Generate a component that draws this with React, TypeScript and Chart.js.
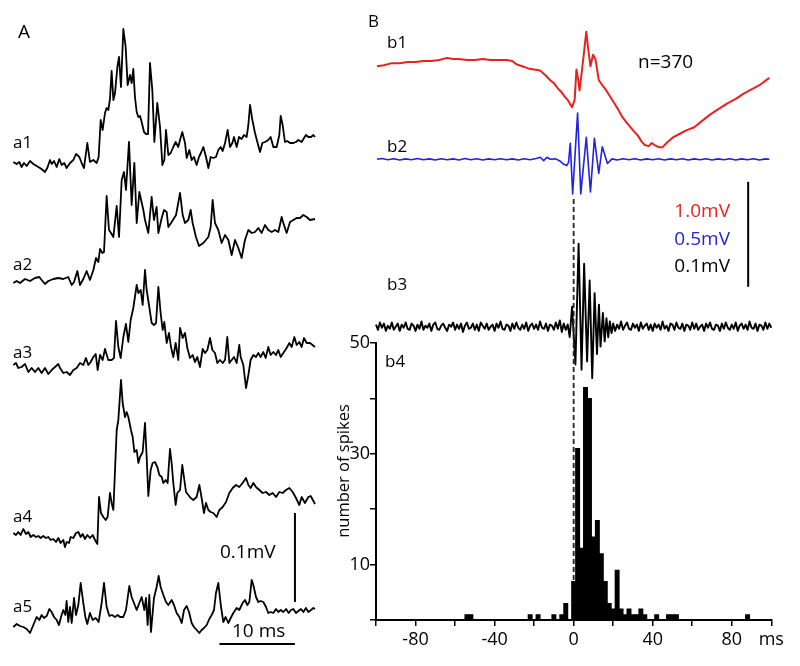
import React, { useEffect, useRef } from "react";
import { Chart, registerables } from "chart.js";

Chart.register(...registerables);

type P = [number, number];

const FONT = "'Open Sans', Lato, 'DejaVu Sans', sans-serif";
const RED = "#e8221f";
const BLUE = "#2222dd";

// ---------------- Panel A: single sweeps (time in ms, amplitude in units where 89 units = 0.1 mV)
const a1: P[] = [[0,1],[0.44,-1],[0.79,1],[1.10,-4],[1.41,0],[1.77,-3],[2.21,2],[2.65,-1],[3.09,-3],[3.53,-5],[3.89,-7],[4.19,-9],[4.50,-5],[4.86,3],[5.08,-1],[5.39,2],[5.74,-4],[6.09,4],[6.40,-2],[6.75,0],[7.06,-5],[7.51,0],[7.95,3],[8.30,9],[8.74,6],[9.05,0],[9.36,-5],[9.80,20],[10.15,1],[10.60,3],[11.04,0],[11.30,6],[11.57,43],[11.83,33],[12.14,50],[12.36,55],[12.58,53],[12.80,64],[13.02,92],[13.25,63],[13.47,70],[13.78,96],[14.00,106],[14.26,76],[14.57,134],[14.88,116],[15.14,78],[15.45,88],[15.67,80],[15.89,94],[16.11,66],[16.34,51],[16.56,46],[16.78,47],[17.00,41],[17.31,31],[17.57,29],[17.84,29],[18.10,100],[18.41,73],[18.68,21],[19.07,60],[19.43,36],[19.74,-2],[20.00,3],[20.22,33],[20.53,8],[20.84,10],[21.19,16],[21.50,21],[21.85,16],[22.08,23],[22.38,31],[22.74,20],[22.96,5],[23.31,13],[23.62,3],[23.93,6],[24.28,-2],[24.59,6],[24.90,11],[25.17,16],[25.52,6],[25.83,-5],[26.14,6],[26.49,5],[26.84,6],[27.15,13],[27.46,16],[27.73,12],[28.04,20],[28.39,33],[28.70,16],[29.01,20],[29.23,26],[29.58,16],[29.89,26],[30.24,24],[30.55,28],[30.90,26],[31.13,38],[31.35,58],[31.66,43],[32.01,30],[32.32,21],[32.67,11],[32.98,20],[33.33,21],[33.77,23],[34.08,26],[34.44,16],[34.88,16],[35.23,28],[35.41,47],[35.67,38],[35.98,21],[36.29,22],[36.65,20],[37.09,20],[37.44,21],[37.75,23],[38.19,21],[38.50,25],[38.76,28],[39.07,26],[39.43,26],[39.74,28],[39.96,26]];

const a2: P[] = [[0,0],[0.44,2],[0.88,0],[1.55,4],[2.21,2],[2.87,5],[3.44,6],[3.75,3],[4.19,-1],[4.64,2],[5.30,4],[5.96,5],[6.62,4],[7.28,6],[7.73,-2],[8.04,1],[8.48,12],[8.83,-2],[9.27,4],[9.71,12],[10.15,3],[10.60,13],[10.95,25],[11.26,21],[11.48,34],[11.79,30],[12.01,31],[12.36,87],[12.67,53],[12.94,50],[13.25,46],[13.69,77],[14.00,46],[14.35,103],[14.66,111],[14.92,93],[15.32,141],[15.67,78],[16.03,120],[16.34,60],[16.69,91],[17.22,73],[17.44,63],[17.88,50],[18.32,86],[18.63,63],[18.98,76],[19.21,50],[19.65,65],[19.96,73],[20.31,71],[20.53,56],[20.97,61],[21.55,68],[22.08,90],[22.43,68],[22.74,60],[23.18,63],[23.49,73],[23.75,60],[24.19,46],[24.59,37],[25.17,40],[25.83,46],[26.14,56],[26.40,83],[26.71,60],[27.15,53],[27.59,40],[28.04,48],[28.48,43],[28.92,28],[29.36,43],[29.80,35],[30.24,25],[30.68,43],[31.13,53],[31.57,50],[32.01,51],[32.45,55],[32.89,50],[33.33,58],[33.77,53],[34.22,51],[34.66,53],[35.10,51],[35.54,66],[35.76,60],[36.20,50],[36.65,61],[37.09,63],[37.53,65],[37.97,65],[38.41,68],[38.85,66],[39.29,63],[39.96,64]];

const a3: P[] = [[0,0],[0.35,2],[0.66,-3],[1.10,-2],[1.55,1],[1.99,-7],[2.43,-3],[2.87,-7],[3.31,-3],[3.75,-8],[4.19,-3],[4.64,-9],[5.08,-5],[5.52,-2],[5.96,1],[6.18,-3],[6.62,-8],[7.06,-7],[7.51,-10],[7.95,-5],[8.39,-3],[8.83,2],[9.27,0],[9.62,7],[9.93,0],[10.24,3],[10.60,8],[10.91,11],[11.17,-5],[11.48,10],[11.83,5],[12.14,16],[12.58,5],[13.02,5],[13.33,7],[13.60,44],[13.91,18],[14.22,7],[14.57,28],[14.92,41],[15.23,23],[15.54,45],[15.89,57],[16.34,80],[16.56,72],[16.87,75],[17.13,60],[17.44,95],[17.66,75],[18.01,58],[18.32,42],[18.63,40],[18.90,42],[19.21,78],[19.51,52],[19.78,35],[20.00,43],[20.31,22],[20.62,32],[20.88,18],[21.19,8],[21.50,22],[21.85,5],[22.08,37],[22.43,27],[22.74,32],[23.05,17],[23.40,7],[23.75,10],[24.06,3],[24.37,8],[24.72,-2],[25.08,16],[25.39,12],[25.70,15],[26.05,27],[26.36,15],[26.71,12],[27.02,2],[27.37,5],[27.73,2],[28.04,5],[28.34,28],[28.61,2],[28.92,5],[29.23,8],[29.58,2],[29.93,20],[30.11,8],[30.46,0],[30.82,-23],[31.13,-10],[31.43,5],[31.79,10],[32.14,8],[32.45,12],[32.76,8],[33.11,13],[33.42,7],[33.77,18],[34.08,10],[34.44,13],[34.79,10],[35.10,15],[35.41,8],[35.76,12],[36.20,17],[36.56,22],[36.87,18],[37.22,28],[37.53,20],[37.88,23],[38.19,18],[38.50,27],[38.85,22],[39.29,22],[39.96,18]];

const a4: P[] = [[0,0],[0.35,-2],[0.66,1],[0.97,-2],[1.32,4],[1.68,-1],[1.99,1],[2.30,-4],[2.65,-2],[3.00,-4],[3.31,-3],[3.62,-5],[3.97,-3],[4.33,-5],[4.64,-4],[4.94,-7],[5.30,-6],[5.65,-9],[5.96,-5],[6.27,-10],[6.62,-7],[6.84,-14],[7.06,-9],[7.37,-10],[7.59,-4],[7.95,-5],[8.30,0],[8.61,1],[8.92,-4],[9.18,-1],[9.49,-6],[9.80,-2],[10.15,-5],[10.51,-2],[10.82,-7],[11.13,-11],[11.35,36],[11.61,20],[11.92,16],[12.23,13],[12.49,16],[12.80,40],[13.02,30],[13.25,23],[13.47,63],[13.69,103],[13.91,113],[14.26,153],[14.48,130],[14.79,116],[15.01,121],[15.23,116],[15.45,108],[15.58,103],[15.81,96],[16.03,81],[16.34,83],[16.56,70],[16.78,76],[17.13,81],[17.44,110],[17.66,76],[17.88,37],[18.19,63],[18.45,70],[18.76,71],[19.07,66],[19.34,58],[19.65,56],[19.87,50],[20.18,53],[20.44,50],[20.75,84],[20.97,70],[21.19,50],[21.50,28],[21.72,40],[22.08,43],[22.38,68],[22.65,53],[22.87,41],[23.18,38],[23.49,35],[23.84,33],[24.28,36],[24.64,48],[24.94,35],[25.25,20],[25.52,30],[25.83,23],[26.14,21],[26.49,20],[26.93,16],[27.28,23],[27.73,26],[28.17,31],[28.61,40],[29.05,45],[29.49,48],[29.93,46],[30.37,50],[30.82,55],[31.13,48],[31.43,45],[31.79,50],[32.14,46],[32.58,43],[33.02,40],[33.47,41],[33.91,38],[34.35,40],[34.79,36],[35.23,41],[35.67,40],[36.12,43],[36.56,45],[37.00,41],[37.44,35],[37.88,28],[38.19,36],[38.63,30],[39.07,36],[39.38,37],[39.96,29]];

const a5: P[] = [[0,0],[0.44,3],[0.88,1],[1.32,0],[1.77,-2],[2.21,-6],[2.65,2],[3.09,10],[3.44,7],[3.75,12],[4.06,9],[4.42,11],[4.77,18],[5.08,15],[5.39,10],[5.74,7],[6.05,2],[6.31,10],[6.62,17],[6.89,12],[7.06,26],[7.28,5],[7.51,20],[7.73,4],[8.04,29],[8.30,12],[8.61,22],[8.92,44],[9.27,24],[9.54,10],[9.80,3],[10.15,14],[10.51,7],[10.91,9],[11.30,5],[11.70,24],[12.01,44],[12.36,20],[12.72,11],[13.07,12],[13.47,10],[13.82,12],[14.13,10],[14.57,10],[14.92,17],[15.36,41],[15.67,30],[16.03,23],[16.34,17],[16.69,24],[17.00,30],[17.35,17],[17.57,29],[17.79,2],[18.01,32],[18.23,-5],[18.63,29],[18.98,40],[19.25,51],[19.51,40],[19.87,32],[20.22,25],[20.53,22],[20.97,27],[21.28,22],[21.63,14],[21.99,10],[22.30,4],[22.61,17],[22.96,21],[23.27,15],[23.62,4],[23.93,0],[24.28,-3],[24.64,-6],[24.94,-3],[25.25,-1],[25.61,2],[25.96,8],[26.27,12],[26.58,17],[26.84,34],[27.15,44],[27.51,20],[27.81,5],[28.12,10],[28.48,4],[28.79,9],[29.14,14],[29.58,19],[29.93,17],[30.37,24],[30.68,27],[30.99,22],[31.26,25],[31.57,47],[31.79,42],[32.14,30],[32.45,25],[32.76,26],[33.11,25],[33.47,20],[33.77,14],[34.08,15],[34.44,14],[34.79,18],[35.10,15],[35.41,17],[35.76,15],[36.12,18],[36.47,14],[36.78,17],[37.09,18],[37.44,14],[37.75,16],[38.10,18],[38.41,15],[38.76,19],[39.07,15],[39.43,17],[39.74,19],[39.96,18]];

// Panel A calibration bars (0.1 mV vertical = 89 units on a5's scale, 10 ms horizontal)
const aBarTime = 37.3;
const aBarFoot = 25;
const aBarLength = 89;
const aTimeBarLevel = -17;
const aTimeBarMs = 10;

// ---------------- Panel B
// b1: averaged field potential (ms, mV)
const b1: P[] = [[-99.5,-0.06],[-96,-0.05],[-92,-0.03],[-88,-0.03],[-84,-0.02],[-80,-0.02],[-76,-0.01],[-72,-0.01],[-68,0.0],[-64,0.02],[-61,0.01],[-58,0.01],[-54,0.0],[-50,0.0],[-46,0.01],[-42,0.0],[-38,0.0],[-34,0.0],[-31,-0.01],[-29,-0.04],[-26,-0.06],[-23,-0.08],[-20,-0.09],[-17,-0.1],[-14,-0.15],[-12,-0.19],[-10,-0.22],[-8,-0.27],[-6,-0.31],[-4.5,-0.35],[-3,-0.38],[-1.8,-0.42],[-0.8,-0.45],[0.5,-0.38],[1.4,-0.09],[2.4,-0.2],[3.0,-0.29],[4.2,-0.1],[5.4,0.1],[6.4,0.27],[7.4,0.1],[8.5,-0.06],[9.8,0.05],[11,0.01],[12.7,-0.19],[14.5,-0.24],[16.5,-0.29],[18.5,-0.35],[20.5,-0.41],[22.5,-0.47],[24.5,-0.54],[26.5,-0.59],[28.7,-0.64],[30.5,-0.68],[32.5,-0.72],[34.5,-0.78],[36,-0.81],[38,-0.82],[39.5,-0.79],[41,-0.81],[43,-0.83],[45,-0.83],[47,-0.79],[50,-0.74],[54,-0.70],[57,-0.67],[61,-0.64],[65,-0.58],[69,-0.52],[73,-0.47],[78,-0.41],[82,-0.37],[86,-0.32],[90,-0.28],[94,-0.24],[99,-0.17]];

// b2: band-pass filtered average (ms, mV)
const b2: P[] = [[-99.5,0],[-97,0.004],[-94,-0.002],[-91,0.003],[-88,-0.003],[-85,0.002],[-82,-0.002],[-79,0.004],[-76,-0.002],[-73,0.002],[-70,-0.003],[-67,0.003],[-64,-0.002],[-61,0.002],[-58,-0.003],[-55,0.004],[-52,-0.002],[-49,0.003],[-46,-0.003],[-43,0.002],[-40,-0.002],[-37,0.003],[-34,-0.002],[-31,0.002],[-28,-0.003],[-25,0.003],[-22,-0.002],[-19,0.004],[-16.9,0.01],[-15.2,-0.006],[-13.5,0.01],[-11.8,0.0],[-9,0.002],[-7,-0.008],[-5,-0.024],[-3.5,-0.03],[-2.6,-0.015],[-1.7,0.076],[-0.5,-0.165],[2.0,0.22],[3.6,-0.165],[6.4,0.105],[8.5,-0.155],[10.5,0.1],[12.7,-0.067],[14.5,0.06],[17.1,-0.02],[19.4,0.002],[22,-0.003],[25,0.003],[28,-0.002],[31,0.003],[34,-0.003],[37,0.002],[40,-0.002],[43,0.003],[46,-0.003],[49,0.002],[52,-0.002],[55,0.003],[58,-0.003],[61,0.002],[64,-0.002],[67,0.003],[70,-0.003],[73,0.002],[76,-0.002],[79,0.003],[82,-0.003],[85,0.002],[88,-0.002],[91,0.003],[94,-0.003],[97,0.002],[99,0]];

// b3: high-pass filtered trace (µV). Noise sampled every 1 ms before and after the burst.
const b3PreStart = -100;
const b3Pre = [2,-3,4,-1,3,-4,1,-2,4,-3,0,3,-4,2,-1,4,-2,-3,3,1,-4,2,-2,5,-3,1,-1,3,-4,2,4,-2,-3,1,3,-1,-4,2,0,4,-3,2,-2,3,-5,1,4,-2,-1,3,-3,2,-4,4,1,-2,3,-3,0,2,-4,3,-1,5,-2,-3,2,1,-4,3,-2,4,-1,-3,2,-2,4,-4,1,3,-2,2,-3,5,-1,-2,3,-4,2,1,-3,4,-2,6,-5,3,-3,2];
const b3Burst: P[] = [[-3,2],[-2,-10],[-0.8,19],[0.9,-36],[2.5,79],[4.0,-41],[5.3,60],[6.8,-33],[8.1,44],[9.4,-49],[10.6,32],[11.8,-26],[12.8,21],[13.6,-19],[14.8,13],[15.7,-14],[16.6,8],[17.5,-10],[18.3,5],[19.2,-6]];
const b3PostStart = 20;
const b3Post = [3,-4,2,-2,5,-3,1,4,-2,-3,3,-1,2,-4,4,-2,1,3,-3,2,-4,3,-1,2,-3,5,-2,1,-4,3,2,-3,4,-1,-2,3,-4,2,1,-3,4,-2,3,-3,0,2,-4,3,-1,4,-2,-3,2,1,-4,3,-2,4,-1,-3,2,-2,4,-4,1,3,-2,2,-3,5,-1,-2,3,-4,2,1,-3,4,-2,3,-1];

// b4: spike-time histogram, 2 ms bins (bin centre ms, count)
const histCenters = [-54,-52,-22,-18,-10,-6,-4,0,2,4,6,8,10,12,14,16,18,20,22,24,26,28,30,32,34,36,42,48,50,52,88];
const histCounts = [1,1,1,1,1,1,3,7,31,13,42,40,15,18,12,7,3,2,9,2,1,2,1,1,2,1,1,1,1,1,1];

const xTickLabels = [-80, -40, 0, 40, 80];
const yTickLabels = [10, 30, 50];

// calibration bar in B (1.0 mV on b1's scale), and t = 0 reference line (histogram units)
const bBarTime = 88.3;
const bBarFoot = -2.16;
const bBarLength = 1.0;
const zeroLineTop = 76.3;

// ---------------- layout (page pixels)
const H = 666;
const A_W = 330;
const B_LEFT = 330;
const B_W = 470;
const A_AREA = { left: 13.33, right: 315.33, top: 0, bottom: 666 };
const A_ZERO = [163, 283, 365, 533, 627];
const B_AREA = { left: 376, right: 771.3, top: 343, bottom: 620 };
const B1_ZERO = 60, B1_PX = 105; // px per mV
const B2_ZERO = 159.3, B2_PX = 210; // px per mV
const B3_ZERO = 326.7, B3_PX = 1.05; // px per µV

type T = { text: string; x: number; y: number; size: number; color?: string; align?: CanvasTextAlign; rotate?: boolean };

const textA: T[] = [
  { text: "A", x: 18, y: 38, size: 19 },
  { text: "a1", x: 13, y: 148, size: 17 },
  { text: "a2", x: 13, y: 270, size: 17 },
  { text: "a3", x: 13, y: 358, size: 17 },
  { text: "a4", x: 13, y: 522, size: 17 },
  { text: "a5", x: 13, y: 612, size: 17 },
  { text: "0.1mV", x: 220, y: 558, size: 19 },
  { text: "10 ms", x: 232, y: 637, size: 19 },
];

const textB: T[] = [
  { text: "B", x: 368, y: 27, size: 17 },
  { text: "b1", x: 387, y: 48, size: 17 },
  { text: "n=370", x: 638, y: 68, size: 19 },
  { text: "b2", x: 387, y: 152, size: 17 },
  { text: "b3", x: 387, y: 290, size: 17 },
  { text: "b4", x: 385, y: 367, size: 17 },
  { text: "1.0mV", x: 730, y: 217, size: 19, color: RED, align: "right" },
  { text: "0.5mV", x: 730, y: 245, size: 19, color: BLUE, align: "right" },
  { text: "0.1mV", x: 730, y: 272, size: 19, align: "right" },
  { text: "number of spikes", x: 349, y: 471, size: 16.5, rotate: true },
];

const xy = (arr: P[]) => arr.map(([x, y]) => ({ x, y }));

function traceAxis(zero: number, pxPerUnit: number, area: { top: number; bottom: number }) {
  return {
    type: "linear" as const,
    display: false,
    bounds: "data" as const,
    min: -(area.bottom - zero) / pxPerUnit,
    max: (zero - area.top) / pxPerUnit,
  };
}

function textPlugin(id: string, items: T[], offsetX: number) {
  return {
    id,
    afterDraw(chart: Chart) {
      const ctx = chart.ctx;
      for (const t of items) {
        ctx.save();
        ctx.font = `${t.size}px ${FONT}`;
        ctx.fillStyle = t.color || "#000";
        if (t.rotate) {
          ctx.translate(t.x - offsetX, t.y);
          ctx.rotate(-Math.PI / 2);
          ctx.textAlign = "center";
          ctx.textBaseline = "alphabetic";
          ctx.fillText(t.text, 0, 0);
        } else {
          ctx.textAlign = t.align || "left";
          ctx.textBaseline = "alphabetic";
          ctx.fillText(t.text, t.x - offsetX, t.y);
        }
        ctx.restore();
      }
    },
  };
}

const lineDs = (data: any[], yAxisID: string, color: string, width: number, extra: any = {}) => ({
  type: "line" as const,
  data,
  yAxisID,
  xAxisID: "x",
  borderColor: color,
  backgroundColor: color,
  borderWidth: width,
  pointRadius: 0,
  tension: 0,
  fill: false,
  clip: false as any,
  borderJoinStyle: "round" as const,
  ...extra,
});

function configA(): any {
  const traces = [a1, a2, a3, a4, a5];
  const scales: any = {
    x: { type: "linear", display: false, min: 0, max: 40, bounds: "data" },
  };
  traces.forEach((_, i) => {
    scales["ya" + (i + 1)] = traceAxis(A_ZERO[i], 1, A_AREA);
  });
  const datasets: any[] = traces.map((tr, i) => lineDs(xy(tr), "ya" + (i + 1), "#000", 1.8));
  datasets.push(
    lineDs(
      [
        { x: aBarTime, y: aBarFoot },
        { x: aBarTime, y: aBarFoot + aBarLength },
      ],
      "ya5",
      "#000",
      2
    )
  );
  datasets.push(
    lineDs(
      [
        { x: aBarTime - aTimeBarMs, y: aTimeBarLevel },
        { x: aBarTime, y: aTimeBarLevel },
      ],
      "ya5",
      "#000",
      2
    )
  );
  return {
    type: "line",
    data: { datasets },
    options: {
      responsive: false,
      animation: false,
      layout: { padding: { left: A_AREA.left, right: A_W - A_AREA.right, top: 0, bottom: 0 } },
      plugins: { legend: { display: false }, tooltip: { enabled: false } },
      scales,
    },
    plugins: [textPlugin("textA", textA, 0)],
  };
}

function configB(): any {
  const b3Data = [
    ...b3Pre.map((v, i) => ({ x: b3PreStart + i, y: v })).filter((p) => p.x < -3),
    ...xy(b3Burst),
    ...b3Post.map((v, i) => ({ x: b3PostStart + i, y: v })).filter((p) => p.x <= 100),
  ];
  const hist = histCenters.map((c, i) => ({ x: c, y: histCounts[i] }));
  const tickFont = { family: FONT, size: 18 };
  return {
    type: "bar",
    data: {
      datasets: [
        {
          type: "bar",
          data: hist,
          xAxisID: "x",
          yAxisID: "yh",
          backgroundColor: "#000",
          borderWidth: 0,
          barThickness: 4.3,
        },
        lineDs(
          [
            { x: 0, y: 0 },
            { x: 0, y: zeroLineTop },
          ],
          "yh",
          "#222",
          1.8,
          { borderDash: [5, 3] }
        ),
        lineDs(xy(b1), "y1", RED, 2),
        lineDs(xy(b2), "y2", BLUE, 1.6),
        lineDs(b3Data, "y3", "#000", 1.9),
        lineDs(
          [
            { x: bBarTime, y: bBarFoot },
            { x: bBarTime, y: bBarFoot + bBarLength },
          ],
          "y1",
          "#000",
          2
        ),
      ],
    },
    options: {
      responsive: false,
      animation: false,
      layout: { padding: { left: 0, right: B_LEFT + B_W - B_AREA.right, top: B_AREA.top, bottom: 0 } },
      plugins: { legend: { display: false }, tooltip: { enabled: false } },
      scales: {
        x: {
          type: "linear",
          min: -100,
          max: 100,
          offset: false,
          bounds: "data",
          ticks: {
            stepSize: 20,
            autoSkip: false,
            maxRotation: 0,
            padding: 3,
            color: "#000",
            font: tickFont,
            callback: (v: any) => (Number(v) === 100 ? "ms" : xTickLabels.includes(Number(v)) ? String(v) : ""),
          },
          grid: { drawOnChartArea: false, drawTicks: true, tickLength: 6, color: "#000", lineWidth: 1.5, offset: false },
          border: { display: true, color: "#000", width: 2 },
          afterFit: (s: any) => {
            s.height = H - B_AREA.bottom;
          },
        },
        yh: {
          type: "linear",
          position: "left",
          min: 0,
          max: 50,
          bounds: "data",
          ticks: {
            stepSize: 10,
            autoSkip: false,
            padding: 0,
            color: "#000",
            font: tickFont,
            callback: (v: any) => (yTickLabels.includes(Number(v)) ? String(v) : ""),
          },
          grid: { drawOnChartArea: false, drawTicks: true, tickLength: 6, color: "#000", lineWidth: 1.5 },
          border: { display: true, color: "#000", width: 2 },
          afterFit: (s: any) => {
            s.width = B_AREA.left - B_LEFT;
          },
        },
        y1: traceAxis(B1_ZERO, B1_PX, B_AREA),
        y2: traceAxis(B2_ZERO, B2_PX, B_AREA),
        y3: traceAxis(B3_ZERO, B3_PX, B_AREA),
      },
    },
    plugins: [textPlugin("textB", textB, B_LEFT)],
  };
}

export default function App() {
  const refA = useRef<HTMLCanvasElement>(null);
  const refB = useRef<HTMLCanvasElement>(null);
  useEffect(() => {
    Chart.defaults.font.family = FONT;
    const ca = new Chart(refA.current as HTMLCanvasElement, configA());
    const cb = new Chart(refB.current as HTMLCanvasElement, configB());
    return () => {
      ca.destroy();
      cb.destroy();
    };
  }, []);
  return (
    <div style={{ position: "absolute", left: 0, top: 0, width: 800, height: H, background: "#fff" }}>
      <canvas
        ref={refA}
        width={A_W}
        height={H}
        style={{ position: "absolute", left: 0, top: 0, width: A_W, height: H, display: "block" }}
      />
      <canvas
        ref={refB}
        width={B_W}
        height={H}
        style={{ position: "absolute", left: B_LEFT, top: 0, width: B_W, height: H, display: "block" }}
      />
    </div>
  );
}
